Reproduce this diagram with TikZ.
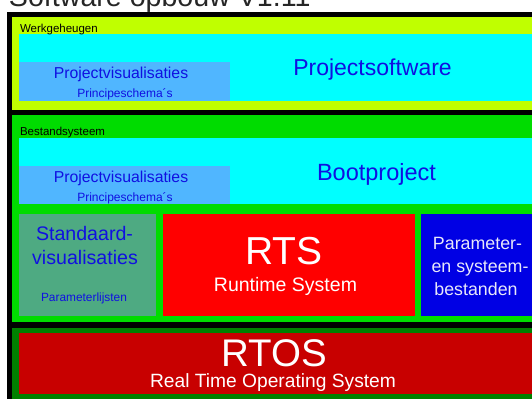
\documentclass[tikz,border=0pt]{standalone}
\usepackage{fontspec}
\setmainfont{Liberation Sans}
\definecolor{werk}{RGB}{192,255,0}
\definecolor{cyanc}{RGB}{0,255,255}
\definecolor{lblue}{RGB}{80,182,255}
\definecolor{txtblue}{RGB}{16,16,225}
\definecolor{bgreen}{RGB}{0,220,0}
\definecolor{stdgreen}{RGB}{78,170,130}
\definecolor{rtsred}{RGB}{255,0,0}
\definecolor{pblue}{RGB}{0,0,228}
\definecolor{dkgreen}{RGB}{0,128,0}
\definecolor{dkred}{RGB}{200,0,0}
\definecolor{paler}{RGB}{232,232,250}
\newcommand{\fsz}[1]{\fontsize{#1}{#1}\selectfont}
\tikzset{
  box/.style={draw=none, inner sep=0pt, outer sep=0pt, anchor=north west},
  lbl/.style={inner sep=0pt, outer sep=0pt, anchor=base},
  lblw/.style={inner sep=0pt, outer sep=0pt, anchor=base west},
}
\begin{document}
\begin{tikzpicture}[x={(1pt,0)}, y={(0,-1pt)}]
\useasboundingbox[fill=white] (0,0) rectangle (532,399);
% title (cut off at the top)
\node[lblw, font=\fsz{28.6}, text=black!85] (title) at (9,6) {Software opbouw V1.11};
% outer frame
\node[box, fill=black, minimum width=525pt, minimum height=387pt] (outer) at (7,12) {};
% Werkgeheugen
\node[box, fill=werk, minimum width=520pt, minimum height=93pt] (werk) at (12,17) {};
\node[box, fill=cyanc, minimum width=513pt, minimum height=67pt] (psw) at (19,34) {};
\node[box, fill=lblue, minimum width=211pt, minimum height=39pt] (pv1) at (19,62) {};
\node[lblw, font=\fsz{11.5}, text=black] (werkt) at (20,32) {Werkgeheugen};
\node[lbl, font=\fsz{23}, text=txtblue] (pswt) at (372.5,75.5) {Projectsoftware};
\node[lbl, font=\fsz{15.8}, text=txtblue] (pv1t) at (121,78) {Projectvisualisaties};
\node[lbl, font=\fsz{12}, text=txtblue] (pv1s) at (125,97) {Principeschema´s};
% Bestandsysteem
\node[box, fill=bgreen, minimum width=520pt, minimum height=207pt] (best) at (12,115) {};
\node[box, fill=cyanc, minimum width=513pt, minimum height=66pt] (boot) at (19,138) {};
\node[box, fill=lblue, minimum width=211pt, minimum height=38pt] (pv2) at (19,166) {};
\node[lblw, font=\fsz{11.5}, text=black] (bestt) at (20,135) {Bestandsysteem};
\node[lbl, font=\fsz{23.5}, text=txtblue] (boott) at (376.5,180) {Bootproject};
\node[lbl, font=\fsz{15.8}, text=txtblue] (pv2t) at (121,182) {Projectvisualisaties};
\node[lbl, font=\fsz{12}, text=txtblue] (pv2s) at (125,201) {Principeschema´s};
% Standaardvisualisaties
\node[box, fill=stdgreen, minimum width=137pt, minimum height=102pt] (std) at (19,214) {};
\node[lbl, font=\fsz{19.6}, text=txtblue] (stdt1) at (84.5,240) {Standaard-};
\node[lbl, font=\fsz{19.6}, text=txtblue] (stdt2) at (85,264) {visualisaties};
\node[lbl, font=\fsz{11.9}, text=txtblue] (stdt3) at (84,301) {Parameterlijsten};
% RTS
\node[box, fill=rtsred, minimum width=252pt, minimum height=102pt] (rts) at (163,214) {};
\node[lbl, font=\fsz{39}, text=white] (rtst) at (284,264) {RTS};
\node[lbl, font=\fsz{19.5}, text=white] (rtss) at (285.5,291) {Runtime System};
% Parameter- en systeembestanden
\node[box, fill=pblue, minimum width=111pt, minimum height=102pt] (par) at (421,214) {};
\node[lbl, font=\fsz{17.8}, text=paler] (par1) at (477.5,249) {Parameter-};
\node[lbl, font=\fsz{17.8}, text=paler] (par2) at (480,272) {en systeem-};
\node[lbl, font=\fsz{17.8}, text=paler] (par3) at (476,295) {bestanden};
% RTOS
\node[box, fill=dkgreen, minimum width=520pt, minimum height=71pt] (rtosf) at (12,328) {};
\node[box, fill=dkred, minimum width=513pt, minimum height=61pt] (rtos) at (19,333) {};
\node[lbl, font=\fsz{38.5}, text=white] (rtost) at (274.5,366) {RTOS};
\node[lbl, font=\fsz{19.2}, text=white] (rtoss) at (273,387) {Real Time Operating System};
\end{tikzpicture}
\end{document}
